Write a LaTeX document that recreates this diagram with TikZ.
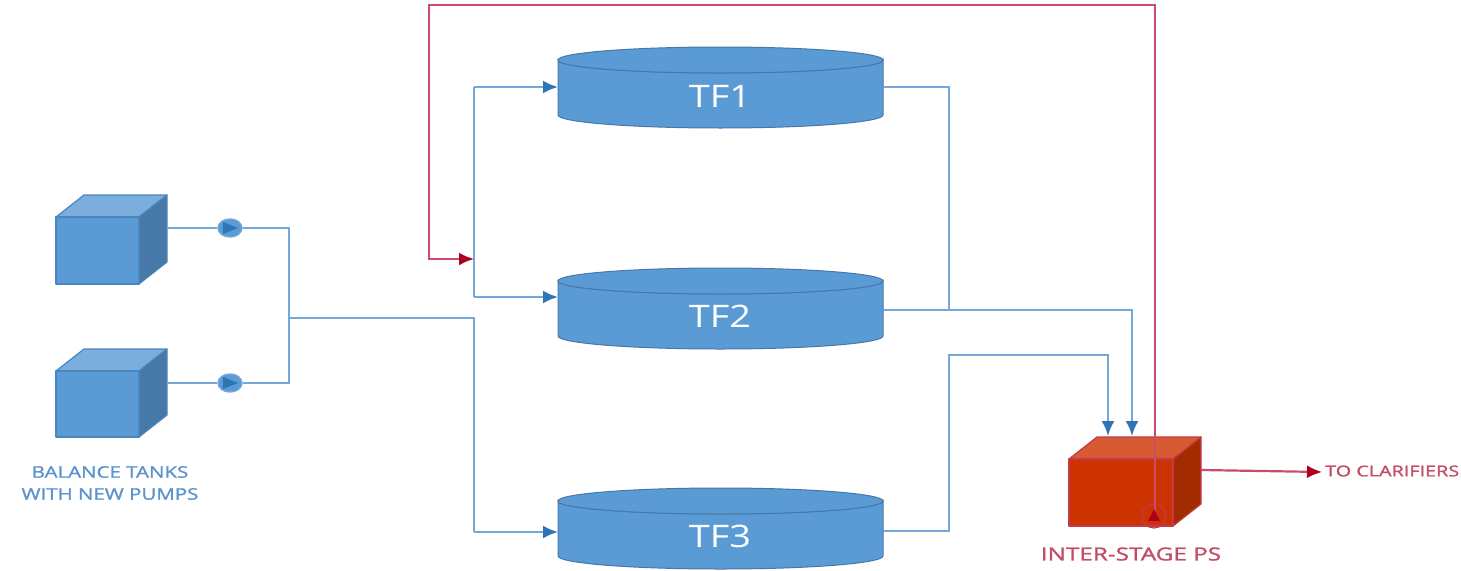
\documentclass[tikz,border=0pt]{standalone}
\usepackage{fontspec}
\usepackage{graphicx}
\setmainfont{Open Sans}
\usetikzlibrary{arrows.meta,calc,shapes.geometric}
\definecolor{bluefill}{HTML}{5B9BD5}
\definecolor{bluetop}{HTML}{7CAEDD}
\definecolor{blueside}{HTML}{4678A8}
\definecolor{blueedge}{HTML}{4A86BE}
\definecolor{bluepipe}{HTML}{74A8DA}
\definecolor{bluehead}{HTML}{2E75B6}
\definecolor{bluetext}{HTML}{5A93CE}
\definecolor{redfront}{HTML}{CC3300}
\definecolor{redtop}{HTML}{D65B33}
\definecolor{redside}{HTML}{A32B00}
\definecolor{rededge}{HTML}{C23A4E}
\definecolor{redpipe}{HTML}{CB4C68}
\definecolor{redhead}{HTML}{B00020}
\definecolor{redtext}{HTML}{C24D68}
\newfontface\labelface{Open Sans}[FakeBold=1.2]
\newcommand{\wide}[2]{\scalebox{#1}[1]{#2}}
\tikzset{
  x=1pt,y=-1pt,
  bluepipeline/.style={draw=bluepipe,line width=2.2pt,line join=miter},
  redpipeline/.style={draw=redpipe,line width=2.2pt,line join=miter},
  bluearrow/.style={bluepipeline,-{Latex[length=15pt,width=13pt,color=bluehead]}},
  redarrow/.style={redpipeline,-{Latex[length=15pt,width=13pt,color=redhead]}},
  tanktext/.style={text=white,font=\fontsize{31}{31}\selectfont,inner sep=0},
  bluelabel/.style={text=bluetext,font=\labelface\fontsize{16}{22}\selectfont,inner sep=0},
  redlabel/.style={text=redtext,font=\labelface\fontsize{18}{20}\selectfont,inner sep=0},
  pumpbody/.style={ellipse,draw=bluepipe,fill=bluefill,line width=1.4pt,minimum width=24,minimum height=18,inner sep=0},
}
% \boxtank{name}{x1}{y1}{x2}{y2}{front}{top}{side}{edge}
\newcommand{\boxtank}[9]{%
  \fill[#7,draw=#9,line width=1.2pt,line join=round] (#2,#3) -- (#2+28,#3-22) -- (#4+28,#3-22) -- (#4,#3) -- cycle;
  \fill[#8,draw=#9,line width=1.2pt,line join=round] (#4,#3) -- (#4+28,#3-22) -- (#4+28,#5-22) -- (#4,#5) -- cycle;
  \fill[#6,draw=#9,line width=1.2pt,line join=round] (#2,#3) rectangle (#4,#5);
  \node[inner sep=0,outer sep=0,minimum width=#4-#2+28,minimum height=#5-#3+22] (#1) at ({(#2+#4+28)/2},{(#3+#5-22)/2}) {};
}
% \drum{name}{top centre y}{bottom centre y}
\newcommand{\drum}[3]{%
  \path[fill=bluefill,draw=blueside,line width=1pt] (558,#2) arc[start angle=180,end angle=360,x radius=162.5,y radius=-13] -- (883,#3) arc[start angle=360,end angle=180,x radius=162.5,y radius=-13] -- cycle;
  \path[fill=bluefill,draw=blueside,line width=1pt] (720.5,#2) ellipse[x radius=162.5,y radius=13];
  \node[inner sep=0,outer sep=0,minimum width=325,minimum height=#3-#2+26] (#1) at (720.5,{(#2+#3)/2}) {};
}
\begin{document}
\begin{tikzpicture}
\useasboundingbox (0,0) rectangle (1461,570);
\boxtank{bt1}{56}{217}{139}{284}{bluefill}{bluetop}{blueside}{blueedge}
\boxtank{bt2}{56}{371}{139}{437}{bluefill}{bluetop}{blueside}{blueedge}
\boxtank{ips}{1069}{459}{1173}{526}{redfront}{redtop}{redside}{rededge}
\drum{tf1}{60}{115}
\drum{tf2}{281}{336}
\drum{tf3}{501}{556}
\node[tanktext] (tf1t) at (720,96) {\wide{1.22}{TF1}};
\node[tanktext] (tf2t) at (720,316) {\wide{1.22}{TF2}};
\node[tanktext] (tf3t) at (720,536) {\wide{1.22}{TF3}};
% junctions
\coordinate (j1) at (289,228);
\coordinate (j2) at (289,383);
\coordinate (j3) at (289,318);
\coordinate (j4) at (474,318);
\coordinate (j5) at (474,532);
\coordinate (j6) at (474,87);
\coordinate (j7) at (474,297);
\coordinate (j8) at (474,259);
\coordinate (r1) at (1155,5);
\coordinate (r2) at (429,5);
\coordinate (r3) at (429,259);
\coordinate (c1) at (949,87);
\coordinate (c2) at (949,310);
\coordinate (c3) at (1132,310);
\coordinate (c4) at (949,531);
\coordinate (c5) at (949,355);
\coordinate (c6) at (1108,355);
\coordinate (clar) at (1322,472);
\coordinate (ipsin1) at (1132,436);
\coordinate (ipsin2) at (1108,436);
\coordinate (ipsout) at (1201,470);
% pumps and blue connectors
\node[pumpbody] (p1) at (230,228) {};
\node[pumpbody] (p2) at (230,383) {};
\draw[bluepipeline] (bt1.east |- p1) -- (p1);
\draw[bluepipeline] (bt2.east |- p2) -- (p2);
\draw[bluepipeline] (p1) -- (j1) -- (j2) -- (p2);
\draw[bluepipeline] (j3) -- (j4) -- (j5);
\draw[bluearrow] (j5) -- (tf3.west |- j5);
\draw[bluearrow] (j6) -- (tf1.west |- j6);
\draw[bluearrow] (j7) -- (tf2.west |- j7);
\draw[bluepipeline] (j6) -- (j7);
\draw[bluepipeline] (tf1.east |- c1) -- (c1) -- (c2);
\draw[bluearrow] (tf2.east |- c2) -- (c3) -- (ipsin1);
\draw[bluearrow] (tf3.east |- c4) -- (c4) -- (c5) -- (c6) -- (ipsin2);
\fill[bluefill] (p1) ellipse[x radius=11,y radius=8];
\fill[bluefill] (p2) ellipse[x radius=11,y radius=8];
\fill[bluehead] ($(p1)+(-7,-6)$) -- ($(p1)+(8,0)$) -- ($(p1)+(-7,6)$) -- cycle;
\fill[bluehead] ($(p2)+(-7,-6)$) -- ($(p2)+(8,0)$) -- ($(p2)+(-7,6)$) -- cycle;
% red connectors
\node[circle,draw=rededge,line width=1.2pt,minimum size=24,inner sep=0] (p3) at (1154,516) {};
\draw[redarrow] (p3.center) -- (p3.center -| r1) -- (r1) -- (r2) -- (r3) -- (j8);
\fill[redhead] ($(p3)+(-6,5)$) -- ($(p3)+(0,-7)$) -- ($(p3)+(6,5)$) -- cycle;
\draw[redarrow] (ipsout) -- (clar);
% labels
\node[bluelabel] (btl1) at (110,472) {\wide{1.28}{BALANCE TANKS}};
\node[bluelabel] (btl2) at (110,494) {\wide{1.28}{WITH NEW PUMPS}};
\node[redlabel] (ipsl) at (1131,554) {\wide{1.35}{INTER-STAGE PS}};
\node[redlabel,font=\labelface\fontsize{15}{18}\selectfont,anchor=west] (cl) at (1325,471) {\wide{1.32}{TO CLARIFIERS}};
\end{tikzpicture}
\end{document}
